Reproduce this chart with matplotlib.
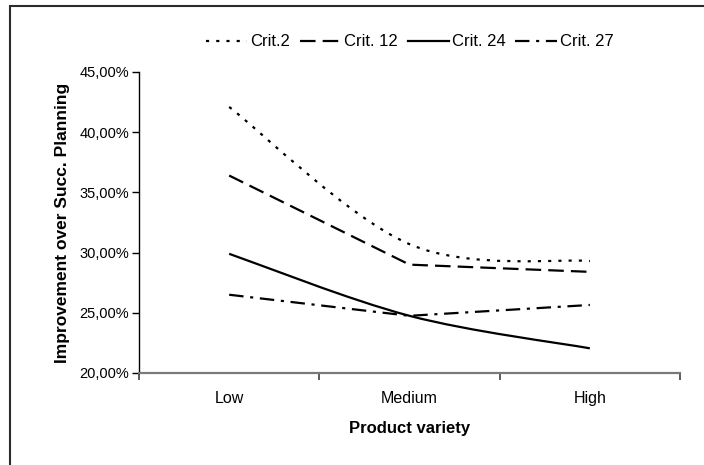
import matplotlib
matplotlib.use("Agg")
import matplotlib.pyplot as plt
from matplotlib.path import Path
from matplotlib.patches import PathPatch, Rectangle
from matplotlib.lines import Line2D
from matplotlib.ticker import FuncFormatter, FixedLocator, NullFormatter

plt.rcParams['font.family'] = ['Liberation Sans', 'DejaVu Sans']

# data (percent)
categories = ['Low', 'Medium', 'High']
series_names = ['Crit.2', 'Crit. 12', 'Crit. 24', 'Crit. 27']
crit2 = [42.1, 30.7, 29.3]
crit12 = [36.4, 29.0, 28.4]
crit24 = [29.9, 24.75, 22.05]
crit27 = [26.5, 24.75, 25.65]


def excel_path(ys, smooth):
    # bezier path through the points, like excel's smoothed line
    xs = list(range(len(ys)))
    pts = list(zip(xs, ys))
    verts = [pts[0]]
    codes = [Path.MOVETO]
    for i in range(len(pts) - 1):
        if not smooth:
            verts.append(pts[i + 1])
            codes.append(Path.LINETO)
            continue
        p0 = pts[max(i - 1, 0)]
        p1 = pts[i]
        p2 = pts[i + 1]
        p3 = pts[min(i + 2, len(pts) - 1)]
        c1 = (p1[0] + (p2[0] - p0[0]) / 6, p1[1] + (p2[1] - p0[1]) / 6)
        c2 = (p2[0] - (p3[0] - p1[0]) / 6, p2[1] - (p3[1] - p1[1]) / 6)
        verts += [c1, c2, p2]
        codes += [Path.CURVE4] * 3
    return Path(verts, codes)


styles = [
    dict(ls=(0, (1.4, 3.2)), smooth=True),
    dict(ls=(0, (7.0, 3.2)), smooth=False),
    dict(ls='-', smooth=True),
    dict(ls=(0, (6.5, 3.0, 1.4, 3.0)), smooth=False),
]
lw = 1.6

fig = plt.figure(figsize=(7.04, 4.65), dpi=100)
ax = fig.add_axes([139 / 704, 1 - 373 / 465, 541 / 704, 301 / 465])

handles = []
for ys, name, st in zip([crit2, crit12, crit24, crit27], series_names, styles):
    patch = PathPatch(excel_path(ys, st['smooth']), facecolor='none',
                      edgecolor='black', lw=lw, ls=st['ls'],
                      capstyle='butt', joinstyle='round')
    ax.add_patch(patch)
    handles.append(Line2D([], [], color='black', lw=lw, ls=st['ls'],
                          dash_capstyle='butt', label=name))

ax.set_xlim(-0.5, 2.5)
ax.set_ylim(20, 45)
ax.set_yticks([20, 25, 30, 35, 40, 45])
ax.yaxis.set_major_formatter(
    FuncFormatter(lambda v, p: f"{v:.2f}%".replace('.', ',')))

# ticks at category borders, labels at centres
ax.xaxis.set_major_locator(FixedLocator([-0.5, 0.5, 1.5, 2.5]))
ax.xaxis.set_major_formatter(NullFormatter())
ax.xaxis.set_minor_locator(FixedLocator([0, 1, 2]))
ax.set_xticklabels(categories, minor=True)
ax.tick_params(axis='x', which='major', direction='out', length=5,
               width=1.2, color='#404040')
ax.tick_params(axis='x', which='minor', length=0, pad=13, labelsize=11.5)
ax.tick_params(axis='y', direction='out', length=5, width=1, pad=2,
               labelsize=10.5)

for s in ['top', 'right']:
    ax.spines[s].set_visible(False)
ax.spines['left'].set_color('black')
ax.spines['left'].set_linewidth(1)
ax.spines['bottom'].set_color('#7a7a7a')
ax.spines['bottom'].set_linewidth(1.6)

ax.set_xlabel('Product variety', fontsize=12, fontweight='bold')
ax.xaxis.set_label_coords(0.5, -0.158)
ax.set_ylabel('Improvement over Succ. Planning', fontsize=12.5,
              fontweight='bold')
ax.yaxis.set_label_coords(-0.127, 0.5)

ax.legend(handles=handles, loc='center', bbox_to_anchor=(0.5, 1.0997),
          ncol=4, frameon=False, fontsize=12, handlelength=2.5,
          handletextpad=0.15, columnspacing=0.6, borderaxespad=0)

# chart border (cut off on the right and bottom)
fig.add_artist(Rectangle((10 / 704, -0.1), 1.2, 1 - 6 / 465 + 0.1,
                         transform=fig.transFigure, fill=False,
                         edgecolor='#2b2b2b', lw=1.5))

fig.savefig('out.png', dpi=100)
